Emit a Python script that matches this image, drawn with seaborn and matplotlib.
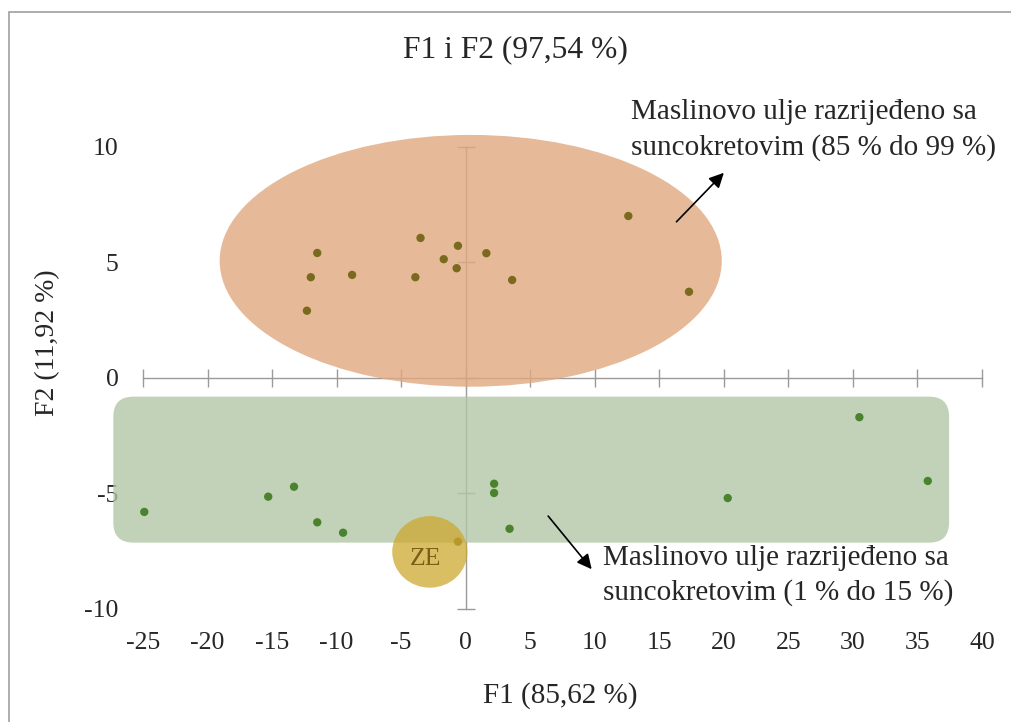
import numpy as np
import pandas as pd
import seaborn as sns
import matplotlib.pyplot as plt
from matplotlib.patches import Ellipse, FancyBboxPatch, Rectangle

# PCA scores (F1, F2)
# olive oil diluted with sunflower oil, 85 % to 99 %
x_hi = [-11.5, -12.0, -12.3, -8.8, -3.9, -3.5, -1.7, -0.6, -0.7, 1.6, 3.6, 12.6, 17.3]
y_hi = [5.40, 4.35, 2.90, 4.45, 4.35, 6.05, 5.13, 5.71, 4.74, 5.39, 4.23, 7.00, 3.72]
# olive oil diluted with sunflower oil, 1 % to 15 %
x_lo = [-24.9, -15.3, -13.3, -11.5, -9.5, 2.2, 2.2, 3.4, 20.3, 30.5, 35.8]
y_lo = [-5.81, -5.15, -4.72, -6.26, -6.71, -4.59, -4.99, -6.54, -5.21, -1.71, -4.47]
# ZE sample
x_ze = [-0.6]
y_ze = [-7.10]

title = "F1 i F2 (97,54 %)"
xlabel = "F1 (85,62 %)"
ylabel = "F2 (11,92 %)"
label_hi = "Maslinovo ulje razrijeđeno sa\nsuncokretovim (85 % do 99 %)"
label_lo = "Maslinovo ulje razrijeđeno sa\nsuncokretovim (1 % do 15 %)"
xticks = list(range(-25, 41, 5))
yticks = list(range(-10, 11, 5))

df = pd.concat([
    pd.DataFrame({"F1": x_hi, "F2": y_hi, "grupa": "hi"}),
    pd.DataFrame({"F1": x_lo, "F2": y_lo, "grupa": "lo"}),
    pd.DataFrame({"F1": x_ze, "F2": y_ze, "grupa": "ze"}),
], ignore_index=True)

sns.set_style("white")
plt.rcParams["font.family"] = ["Liberation Serif", "DejaVu Serif"]
plt.rcParams["axes.unicode_minus"] = False
fs = 18.5
grey = "#9A9A9A"

W, H = 1012, 722
fig = plt.figure(figsize=(W / 100, H / 100), dpi=100)
ax = fig.add_axes([143 / W, 1 - 608.7 / H, (982 - 143) / W, (608.7 - 146.7) / H])
ax.set_xlim(-25, 40)
ax.set_ylim(-10, 10)

# axes crossing at the origin
for s in ["top", "right"]:
    ax.spines[s].set_visible(False)
for s in ["left", "bottom"]:
    ax.spines[s].set_position(("data", 0))
    ax.spines[s].set_color(grey)
    ax.spines[s].set_linewidth(1)
ax.set_xticks(xticks)
ax.set_yticks(yticks)
ax.tick_params(bottom=True, left=True, direction="inout", length=12.5,
               width=1, color=grey, labelbottom=False, labelleft=False)

# tick labels at the outer edges
secx = ax.secondary_xaxis("bottom")
secx.set_xticks(xticks)
secx.tick_params(length=0, pad=16.5, labelsize=fs)
secx.spines["bottom"].set_visible(False)
secy = ax.secondary_yaxis("left")
secy.set_yticks(yticks)
secy.tick_params(length=0, pad=17.5, labelsize=fs)
secy.spines["left"].set_visible(False)

# group shapes
ax.add_patch(Ellipse((0.39, 5.06), 38.9, 10.9, fc="#E0A880", alpha=0.8,
                     lw=0, zorder=3, clip_on=False))
ax.add_patch(FancyBboxPatch((-27.3, -7.14), 64.75, 6.32,
                            boxstyle="round,pad=0,rounding_size=1.55",
                            mutation_aspect=0.558, fc="#B3C7A6", alpha=0.8,
                            lw=0, zorder=3, clip_on=False))

sns.scatterplot(data=df, x="F1", y="F2", hue="grupa",
                palette={"hi": "#7A6A1E", "lo": "#4B822D", "ze": "#7A6A1E"},
                s=36, linewidth=0, legend=False, zorder=4, ax=ax, clip_on=False)
ax.set_xlabel("")
ax.set_ylabel("")

ax.add_patch(Ellipse((-2.78, -7.54), 5.82, 3.1, fc="#CEA830", alpha=0.75,
                     lw=0, zorder=5, clip_on=False))
ax.text(-3.1, -7.85, "ZE", color="#7A5F14", fontsize=fs, ha="center",
        va="center", zorder=6)

# annotations
ax.annotate("", xy=(20.0, 8.87), xytext=(16.33, 6.75), annotation_clip=False,
            arrowprops=dict(arrowstyle="-|>", color="black", lw=1.2,
                            mutation_scale=22, shrinkA=0, shrinkB=0), zorder=6)
ax.annotate("", xy=(9.76, -8.29), xytext=(6.39, -5.99), annotation_clip=False,
            arrowprops=dict(arrowstyle="-|>", color="black", lw=1.2,
                            mutation_scale=22, shrinkA=0, shrinkB=0), zorder=6)
ax.text(12.8, 12.05, label_hi, fontsize=21, ha="left", va="top",
        linespacing=1.4, zorder=6)
ax.text(10.6, -7.25, label_lo, fontsize=21, ha="left", va="top",
        linespacing=1.4, zorder=6)

fig.text(515 / W, 1 - 50 / H, title, fontsize=22.7, ha="center", va="center")
fig.text(560 / W, 1 - 696 / H, xlabel, fontsize=21, ha="center", va="center")
fig.text(48 / W, 1 - 343 / H, ylabel, fontsize=20, ha="center", va="center",
         rotation=90)

# chart frame
fig.patches.append(Rectangle((9.5 / W, -0.1), 1.2, 1 - 11.5 / H + 0.1,
                             transform=fig.transFigure, fill=False,
                             ec="#A0A0A0", lw=1.2))

fig.savefig("out.png", dpi=100)
